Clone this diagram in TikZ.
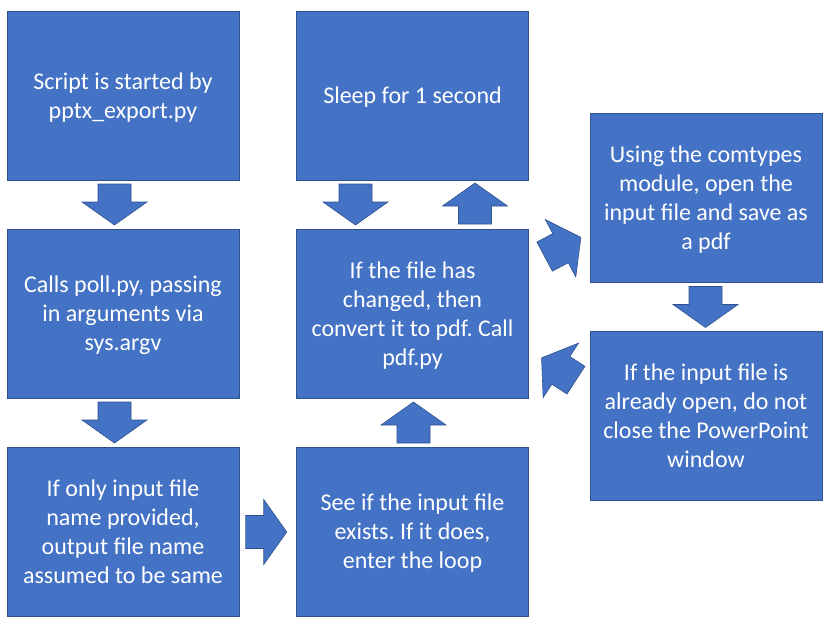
\documentclass[tikz,border=0pt]{standalone}
\usepackage{fontspec}
\setmainfont{Carlito}
\usepackage{tikz}
\usetikzlibrary{calc}

\definecolor{boxblue}{HTML}{4472C4}
\definecolor{boxedge}{HTML}{2F528F}

\newcommand{\tstrut}{\rule{0pt}{22pt}}
\newcommand{\bstrut}{\rule[-6pt]{0pt}{6pt}}
\newcommand{\blockarrow}[2]{%
  \filldraw[blockarrow,shift={(#1)},rotate=#2] (-20.5,-16.5) -- (-2.5,-16.5) -- (-2.5,-32.5) -- (20.5,0) -- (-2.5,32.5) -- (-2.5,16.5) -- (-20.5,16.5) -- cycle;}

\begin{document}
\frenchspacing
\begin{tikzpicture}[x=1pt,y=-1pt,
  procbox/.style={rectangle,fill=boxblue,draw=boxedge,line width=0.9pt,minimum width=232pt,minimum height=169pt,
    align=center,text=white,font=\fontsize{24}{29}\selectfont,inner sep=0pt},
  blockarrow/.style={fill=boxblue,draw=boxedge,line width=0.6pt,line join=miter}]
  \useasboundingbox (0,0) rectangle (832,632);
  \node[procbox] (start) at (123,95.5) {\tstrut Script is started by\\pptx\_export.py\bstrut};
  \node[procbox] (poll) at (123,313.5) {\tstrut Calls poll.py, passing\\in arguments via\\sys.argv\bstrut};
  \node[procbox] (args) at (123,531.5) {\tstrut If only input file\\name provided,\\output file name\\assumed to be same\bstrut};
  \node[procbox] (exists) at (412.5,531.5) {\tstrut See if the input file\\exists. If it does,\\enter the loop\bstrut};
  \node[procbox] (changed) at (412.5,313.5) {\tstrut If the file has\\changed, then\\convert it to pdf. Call\\pdf.py\bstrut};
  \node[procbox] (sleep) at (412.5,95.5) {\tstrut Sleep for 1 second\bstrut};
  \node[procbox] (convert) at (706,197.5) {\tstrut Using the comtypes\\module, open the\\input file and save as\\a pdf\bstrut};
  \node[procbox] (keep) at (706,415.5) {\tstrut If the input file is\\already open, do not\\close the PowerPoint\\window\bstrut};
  \coordinate (a1) at ($(start.south)!0.5!(poll.north)+(-8.5,0)$);
  \coordinate (a2) at ($(poll.south)!0.5!(args.north)+(-8.5,0)$);
  \coordinate (a3) at ($(args.east)!0.5!(exists.west)+(-1.5,0.5)$);
  \coordinate (a4) at ($(exists.north)!0.5!(changed.south)+(1,0)$);
  \coordinate (a5) at ($(sleep.south)!0.5!(changed.north)+(-57,0)$);
  \coordinate (a6) at ($(changed.north)!0.5!(sleep.south)+(62.5,-1)$);
  \coordinate (a7) at ($(changed.north east)!0.5!(convert.south west)+(3.5,-8.5)$);
  \coordinate (a8) at ($(convert.south)!0.5!(keep.north)+(-0.5,0.5)$);
  \coordinate (a9) at ($(keep.west)!0.5!(changed.east)+(-0.5,4.5)$);
  \blockarrow{a1}{-90}
  \blockarrow{a2}{-90}
  \blockarrow{a3}{0}
  \blockarrow{a4}{90}
  \blockarrow{a5}{-90}
  \blockarrow{a6}{90}
  \blockarrow{a7}{28}
  \blockarrow{a8}{-90}
  \blockarrow{a9}{147}
\end{tikzpicture}
\end{document}
